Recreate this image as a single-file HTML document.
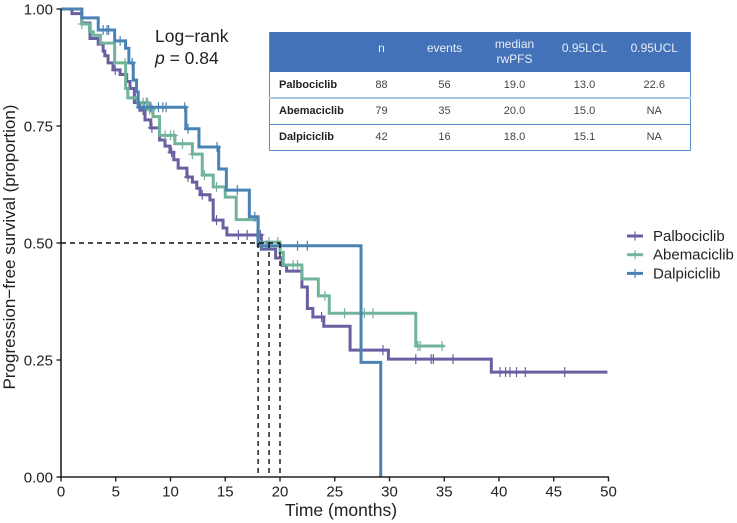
<!DOCTYPE html>
<html>
<head>
<meta charset="utf-8">
<style>
html,body{margin:0;padding:0;background:#fff;width:737px;height:523px;overflow:hidden}
#wrap{position:relative;width:737px;height:523px;font-family:"Liberation Sans","Noto Sans CJK SC",sans-serif}
svg{position:absolute;left:0;top:0}
table{position:absolute;left:269px;top:32px;width:421px;height:118px;border-collapse:collapse;table-layout:fixed;font-size:11px;color:#444;text-align:center;border-left:1px solid #5b8ac8;border-right:1px solid #5b8ac8}
th{background:#4472b8;color:#e8eef8;font-weight:normal;font-size:12px;height:40px;padding:0;line-height:15px;vertical-align:middle;box-sizing:border-box}
td{padding:0;border-bottom:1px solid #5b8ac8;height:26px;line-height:14px;box-sizing:border-box}
td.nm{text-align:left;padding-left:9px;font-weight:bold;color:#222}
tr.r1 td{border-bottom:2px solid #a9c4e6}
th:last-child,td:last-child{padding-left:7px}
</style>
</head>
<body>
<div id="wrap">
<svg id="chart" width="737" height="523" xmlns="http://www.w3.org/2000/svg"></svg>
<table>
<colgroup><col style="width:76px"><col style="width:72px"><col style="width:54px"><col style="width:86px"><col style="width:54px"><col style="width:79px"></colgroup>
<tr><th></th><th style="padding-bottom:7px">n</th><th style="padding-bottom:7px">events</th><th>median<br>rwPFS</th><th style="padding-bottom:7px">0.95LCL</th><th style="padding-bottom:7px">0.95UCL</th></tr>
<tr class="r1"><td class="nm">Palbociclib</td><td>88</td><td>56</td><td>19.0</td><td>13.0</td><td>22.6</td></tr>
<tr><td class="nm">Abemaciclib</td><td>79</td><td>35</td><td>20.0</td><td>15.0</td><td>NA</td></tr>
<tr><td class="nm">Dalpiciclib</td><td>42</td><td>16</td><td>18.0</td><td>15.1</td><td>NA</td></tr>
</table>
</div>
<script>
const xTicks = [0,5,10,15,20,25,30,35,40,45,50];
const yTicks = ["0.00","0.25","0.50","0.75","1.00"];
const medianTimes = [18,19,20];
const medianLevel = 0.5;

const palboTimes = [1.0,1.9,2.65,3.4,3.85,4.0,4.3,4.75,5.4,6.0,6.3,6.7,7.2,7.67,8.2,9.0,9.5,9.95,10.3,10.7,11.5,12.0,12.4,12.7,13.6,13.9,14.8,15.15,18.3,19.6,20.2,20.6,22.0,22.5,23.0,24.0,26.4,29.9,39.3];
const palboSurv = [0.99,0.97,0.937,0.925,0.91,0.90,0.885,0.87,0.86,0.845,0.83,0.80,0.784,0.763,0.746,0.72,0.707,0.694,0.678,0.66,0.641,0.63,0.617,0.603,0.592,0.549,0.532,0.517,0.487,0.468,0.452,0.44,0.406,0.36,0.342,0.322,0.271,0.252,0.224];
const palboCensor = [4.95,7.5,8.3,10.1,11.6,12.9,14.2,16.2,17.0,17.9,18.2,23.8,29.4,32.4,33.8,34.0,35.8,40.1,40.6,41.0,41.6,42.4,46.0];
const palboEnd = 49.9;

const abemaTimes = [1.9,2.6,2.95,3.6,4.9,5.9,6.1,7.0,8.0,8.4,9.0,10.4,12.0,12.9,13.9,15.0,16.0,18.0,20.0,20.3,22.0,23.5,24.5,32.4];
const abemaSurv = [0.968,0.951,0.944,0.927,0.885,0.83,0.81,0.80,0.785,0.77,0.73,0.712,0.69,0.645,0.62,0.598,0.55,0.502,0.48,0.453,0.423,0.387,0.35,0.28];
const abemaCensor = [1.9,5.85,7.5,7.8,7.9,8.1,8.3,9.5,10.0,10.3,11.1,12.0,13.1,14.2,19.0,19.8,21.2,21.6,24.1,25.9,27.7,28.5,32.6,32.8,34.8];
const abemaEnd = 35.0;

const dalpiTimes = [1.9,3.4,4.9,5.9,6.2,6.6,6.9,7.05,11.4,12.6,14.4,15.1,17.2,18.0,27.4,29.2];
const dalpiSurv = [0.981,0.955,0.932,0.916,0.885,0.848,0.823,0.79,0.744,0.705,0.658,0.613,0.556,0.494,0.245,0];
const dalpiCensor = [3.85,4.2,4.35,5.4,6.5,7.2,7.6,8.2,8.9,9.3,9.6,11.3,11.6,14.25,16.1,17.7,18.3,18.8,21.6,22.5];
const dalpiEnd = 29.2;

const NS = "http://www.w3.org/2000/svg";
const svg = document.getElementById("chart");
function X(t){return 61+t*10.95;}
function Y(s){return 477-s*468;}
function add(tag,attrs,parent){
  const e=document.createElementNS(NS,tag);
  for(const k in attrs)e.setAttribute(k,attrs[k]);
  (parent||svg).appendChild(e);
  return e;
}
function survAt(times,surv,t){
  let s=1;
  for(let i=0;i<times.length;i++){if(times[i]<=t)s=surv[i];}
  return s;
}
function drawCurve(name,color,times,surv,censor,end){
  const g=add("g",{});
  
  
  let d="M"+X(0)+" "+Y(1);
  for(let i=0;i<times.length;i++){
    d+="H"+X(times[i])+"V"+Y(surv[i]);
  }
  d+="H"+X(end);
  const p=add("path",{d:d,fill:"none",stroke:color,"stroke-width":3,"stroke-linejoin":"miter"},g);
  
  
  censor.forEach(function(t){
    const y=Y(survAt(times,surv,t)),x=X(t);
    const c=add("path",{d:"M"+x+" "+(y-5)+"V"+(y+5)+"M"+(x-4)+" "+y+"H"+(x+4),stroke:color,"stroke-width":1.2,fill:"none"},g);
    
    
  });
}
const cPalbo="#6a5fa0",cAbema="#72b39b",cDalpi="#4a82b4";

drawCurve("palbociclib",cPalbo,palboTimes,palboSurv,palboCensor,palboEnd);
drawCurve("abemaciclib",cAbema,abemaTimes,abemaSurv,abemaCensor,abemaEnd);
drawCurve("dalpiciclib",cDalpi,dalpiTimes,dalpiSurv,dalpiCensor,dalpiEnd);

// median guide lines
const hGuide=add("line",{x1:X(0),x2:X(20),y1:Y(medianLevel),y2:Y(medianLevel),stroke:"#111","stroke-width":1.4,"stroke-dasharray":"5 4"});


medianTimes.forEach(function(t){
  const l=add("line",{x1:X(t),x2:X(t),y1:Y(medianLevel),y2:Y(0),stroke:"#111","stroke-width":1.4,"stroke-dasharray":"5 4"});
  
  
});

// axes
const xAxis=add("line",{x1:X(0)-1,x2:X(50)+0.5,y1:Y(0),y2:Y(0),stroke:"#222","stroke-width":1.6});


const yAxis=add("line",{x1:X(0),x2:X(0),y1:Y(1)-0.5,y2:Y(0)+1,stroke:"#222","stroke-width":1.6});


xTicks.forEach(function(v){
  const t=add("line",{x1:X(v),x2:X(v),y1:Y(0),y2:Y(0)+4.5,stroke:"#222","stroke-width":1.4});
  
  
  const l=add("text",{x:X(v),y:496.5,"text-anchor":"middle","font-size":15,fill:"#222"});
  
  
  l.textContent=v;
});
yTicks.forEach(function(v){
  const s=parseFloat(v);
  const t=add("line",{x1:X(0)-4.5,x2:X(0),y1:Y(s),y2:Y(s),stroke:"#222","stroke-width":1.4});
  
  
  const l=add("text",{x:53,y:Y(s)+5.5,"text-anchor":"end","font-size":15,fill:"#222"});
  
  
  l.textContent=v;
});
const xt=add("text",{x:341,y:516,"text-anchor":"middle","font-size":17.5,fill:"#222"});


xt.textContent="Time (months)";
const yt=add("text",{x:0,y:0,transform:"translate(15,247) rotate(-90)","text-anchor":"middle","font-size":17,fill:"#222"});


yt.textContent="Progression\u2212free survival (proportion)";

// annotation
const a1=add("text",{x:155,y:42,"font-size":17.5,fill:"#222"});


a1.textContent="Log\u2212rank";
const a2=add("text",{x:155,y:64,"font-size":17.5,fill:"#222"});


const it=add("tspan",{"font-style":"italic"},a2);
it.textContent="p";
const rest=add("tspan",{},a2);
rest.textContent=" = 0.84";

// legend
const legendNames=["Palbociclib","Abemaciclib","Dalpiciclib"];
const legendColors=[cPalbo,cAbema,cDalpi];
legendNames.forEach(function(n,i){
  const y=236+i*18.7;
  const g=add("g",{});
  
  
  add("line",{x1:627,x2:643,y1:y,y2:y,stroke:legendColors[i],"stroke-width":3},g);
  add("line",{x1:635,x2:635,y1:y-4.5,y2:y+4.5,stroke:legendColors[i],"stroke-width":1.2},g);
  const t=add("text",{x:653,y:y+5,"font-size":15,fill:"#222"},g);
  t.textContent=n;
});
</script>
</body>
</html>
